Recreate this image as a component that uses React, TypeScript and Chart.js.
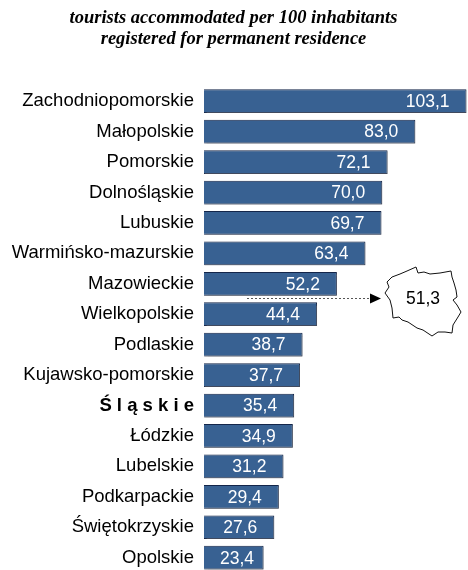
import { useEffect, useRef } from "react";
import { Chart, registerables } from "chart.js";

Chart.register(...registerables);

const categories = ["Zachodniopomorskie","Małopolskie","Pomorskie","Dolnośląskie","Lubuskie","Warmińsko-mazurskie","Mazowieckie","Wielkopolskie","Podlaskie","Kujawsko-pomorskie","Ś l ą s k i e","Łódzkie","Lubelskie","Podkarpackie","Świętokrzyskie","Opolskie"];
const values = [103.1,83.0,72.1,70.0,69.7,63.4,52.2,44.4,38.7,37.7,35.4,34.9,31.2,29.4,27.6,23.4];
const highlighted = "Ś l ą s k i e";
const titleLines = ["tourists accommodated per 100 inhabitants","registered for permanent residence"];
const polandLabel = "51,3";
const polandOutline: [number, number][] = [[387,282],[392,277],[400,274],[407,271],[416,267],[418,273],[424,272],[430,274],[440,273],[451,271],[452,277],[454,283],[456,290],[457,297],[453,300],[457,305],[461,312],[458,317],[453,325],[452,333],[445,332],[438,332],[432,336],[423,330],[417,328],[408,322],[402,320],[399,317],[393,318],[392,308],[390,300],[385,293],[389,287]];

const fmt = (v: number) => v.toFixed(1).replace(".", ",");

const overlay = {
  id: "overlay",
  beforeDatasetDraw(chart: any) {
    const c = chart.ctx;
    c.save();
    c.shadowColor = "rgba(120,120,120,0.45)";
    c.shadowOffsetX = 1;
    c.shadowOffsetY = 1;
    c.shadowBlur = 1;
  },
  afterDatasetDraw(chart: any) {
    chart.ctx.restore();
  },
  afterDatasetsDraw(chart: any) {
    const c = chart.ctx;
    const meta = chart.getDatasetMeta(0);
    c.save();
    c.font = "17.5px 'Liberation Sans'";
    c.fillStyle = "#ffffff";
    c.textAlign = "right";
    c.textBaseline = "middle";
    const x0 = chart.scales.x.getPixelForValue(0);
    meta.data.forEach((bar: any, i: number) => {
      const t = fmt(values[i]);
      const w = c.measureText(t).width;
      c.fillText(t, Math.max(bar.x - 17, x0 + 16 + w), bar.y + 1);
    });
    c.restore();

    // connector from Mazowieckie's row to the national map
    const yConn = 298.5;
    c.save();
    c.strokeStyle = "#555555";
    c.lineWidth = 1;
    c.setLineDash([2, 2]);
    c.beginPath();
    c.moveTo(247, yConn);
    c.lineTo(371, yConn);
    c.stroke();
    c.setLineDash([]);
    c.fillStyle = "#000000";
    c.beginPath();
    c.moveTo(370, yConn - 5);
    c.lineTo(381, yConn);
    c.lineTo(370, yConn + 5);
    c.closePath();
    c.fill();

    c.strokeStyle = "#111111";
    c.lineWidth = 1;
    c.lineJoin = "round";
    c.beginPath();
    polandOutline.forEach(([x, y], i) => (i ? c.lineTo(x, y) : c.moveTo(x, y)));
    c.closePath();
    c.stroke();

    c.fillStyle = "#000000";
    c.font = "17.5px 'Liberation Sans'";
    c.textAlign = "center";
    c.textBaseline = "middle";
    c.fillText(polandLabel, 423, yConn + 1);
    c.restore();
  },
};

export default function App() {
  const ref = useRef<HTMLCanvasElement>(null);
  useEffect(() => {
    const chart = new Chart(ref.current!, {
      type: "bar",
      data: {
        labels: categories,
        datasets: [{
          data: values,
          backgroundColor: "#386192",
          borderColor: "#14264a",
          borderWidth: 1,
          barPercentage: 0.78,
          categoryPercentage: 1,
        }],
      },
      plugins: [overlay],
      options: {
        indexAxis: "y",
        animation: false,
        responsive: false,
        layout: { padding: { right: 1 } },
        plugins: {
          legend: { display: false },
          tooltip: { enabled: false },
          title: {
            display: true,
            text: titleLines,
            color: "#000000",
            font: { family: "'Liberation Serif'", size: 18.5, style: "italic", weight: "bold", lineHeight: 21 / 18.5 },
            padding: { top: 8, bottom: 36 },
          },
        },
        scales: {
          x: { display: false, min: 0, max: 103.3, grid: { display: false } },
          y: {
            afterFit(s: any) { s.width = 204; },
            grid: { display: false, drawTicks: false },
            border: { display: false },
            ticks: {
              autoSkip: false,
              padding: 10,
              color: "#000000",
              font: (ctx: any) => {
                const bold = categories[ctx.index] === highlighted;
                return { family: "'Liberation Sans'", size: 18.5, weight: bold ? "bold" : "normal" };
              },
            },
          },
        },
      },
    } as any);
    return () => chart.destroy();
  }, []);
  return (
    <div style={{ position: "absolute", left: 0, top: 0, width: 468, height: 570, overflow: "hidden", background: "#fff" }}>
      <canvas ref={ref} width={468} height={594} style={{ display: "block" }} />
    </div>
  );
}
